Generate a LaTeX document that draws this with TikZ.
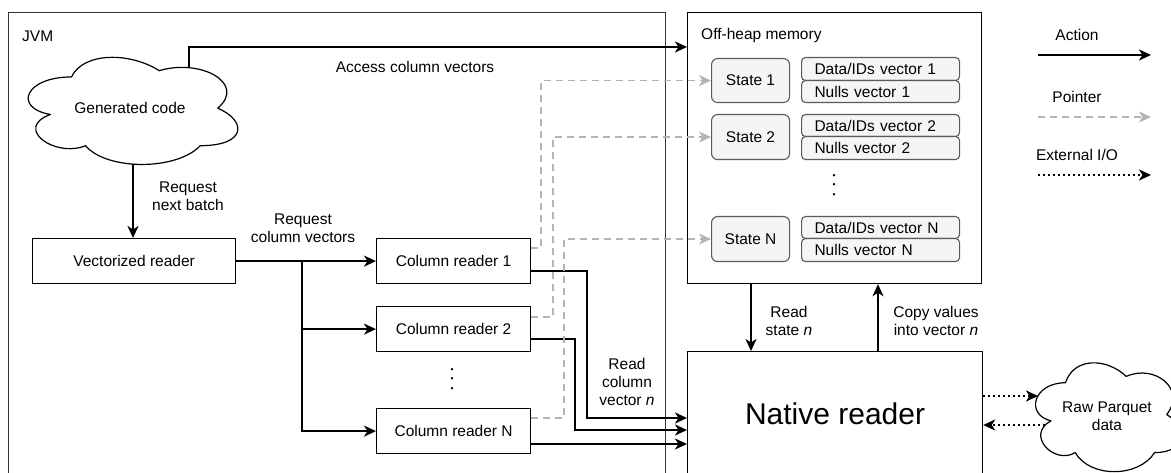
\documentclass[tikz,border=0pt]{standalone}
\usepackage{fontspec}
\setmainfont{Liberation Sans}
\setsansfont{Liberation Sans}
\usetikzlibrary{arrows.meta}

\definecolor{panelfill}{HTML}{F5F5F5}
\definecolor{ptrgray}{HTML}{B3B3B3}
\definecolor{framegray}{HTML}{333333}
\definecolor{softedge}{HTML}{5A5A5A}

% Cloud outline inside the box with top-left corner (#1,#2), width #3, height #4
\newcommand\cloudoutline[4]{%
  \draw[line width=1.2pt, line join=round, shift={(#1,#2)}, x=#3pt, y=-#4pt]
    (0.25,0.25) .. controls (0.05,0.25) and (0,0.5) .. (0.16,0.55)
    .. controls (0,0.66) and (0.18,0.9) .. (0.31,0.8)
    .. controls (0.4,1) and (0.7,1) .. (0.8,0.8)
    .. controls (1,0.8) and (1,0.6) .. (0.875,0.5)
    .. controls (1,0.3) and (0.8,0.1) .. (0.625,0.2)
    .. controls (0.5,0.05) and (0.3,0.05) .. (0.25,0.25) -- cycle;}

\tikzset{
  box/.style={draw=black, line width=1.2pt, anchor=north west, inner sep=0pt, align=center},
  frame/.style={draw=framegray, line width=1.2pt, anchor=north west, inner sep=0pt},
  statebox/.style={draw=softedge, fill=panelfill, line width=1.1pt, rounded corners=6pt,
                   anchor=north west, inner sep=0pt, minimum width=78pt},
  vecbox/.style={draw=softedge, fill=panelfill, line width=1.1pt, rounded corners=4pt,
                 anchor=north west, inner xsep=13pt, inner ysep=0pt, text width=132pt, align=left},
  lbl/.style={align=center, inner sep=0pt},
  vdotsnode/.style={align=center, inner sep=0pt, font=\fontsize{8.5}{9.6}\selectfont},
  headtip/.tip={Stealth[length=12pt, width=11pt, inset=3.5pt]},
  action/.style={draw=black, line width=2pt, -headtip},
  pointer/.style={draw=ptrgray, line width=1.8pt, dash pattern=on 7pt off 5pt, -headtip},
  extio/.style={draw=black, line width=2pt, dash pattern=on 2pt off 3pt, -headtip},
}

\begin{document}
\begin{tikzpicture}[x=1pt, y=-1pt, font=\fontsize{15.5}{18}\selectfont]
\useasboundingbox (0,0) rectangle (1171,473);
\clip (0,0) rectangle (1171,473);

% Containers
\node[frame, minimum width=657pt, minimum height=480pt] (jvm) at (8,12) {};
\node[anchor=west, inner sep=0pt] (jvmlabel) at (22,36) {JVM};
\node[box, minimum width=294pt, minimum height=271pt] (offheap) at (687,12) {};
\node[anchor=west, inner sep=0pt] (offheaplabel) at (701,35) {Off-heap memory};

% Native side
\node[box, minimum width=295pt, minimum height=125pt,
      font=\fontsize{30}{36}\selectfont] (native) at (687,351) {Native reader};

% Clouds
\cloudoutline{13}{45.7}{234}{125}
\node[lbl] (gen) at (130,108) {Generated code};
\coordinate (genTop) at (189,67);
\coordinate (genBot) at (133,164);

\cloudoutline{1025}{351}{162}{127}
\node[lbl] (raw) at (1107,416) {Raw Parquet\\data};
\coordinate (rawIn) at (1038,396);
\coordinate (rawOut) at (1045,425);

% JVM readers
\node[box, minimum width=203pt, minimum height=45pt] (vect) at (32,238) {Vectorized reader};
\node[box, minimum width=154pt, minimum height=45pt] (cr1) at (376,238) {Column reader 1};
\node[box, minimum width=154pt, minimum height=45pt] (cr2) at (376,306) {Column reader 2};
\node[box, minimum width=154pt, minimum height=45pt] (crN) at (376,408) {Column reader N};
\node[vdotsnode] (rdots) at (452,380) {\textbullet\\\textbullet\\\textbullet};

% Off-heap states and vectors
\node[statebox, minimum height=44pt] (s1) at (711,58) {State 1};
\node[statebox, minimum height=45pt] (s2) at (711,114) {State 2};
\node[statebox, minimum height=45pt] (sN) at (711,216) {State N};
\node[vecbox, minimum height=23pt] (d1) at (801,57) {Data/IDs vector 1};
\node[vecbox, minimum height=22pt] (n1) at (801,80) {Nulls vector 1};
\node[vecbox, minimum height=22pt] (d2) at (801,114) {Data/IDs vector 2};
\node[vecbox, minimum height=23pt] (n2) at (801,136) {Nulls vector 2};
\node[vecbox, minimum height=22pt] (dN) at (801,216) {Data/IDs vector N};
\node[vecbox, minimum height=23pt] (nN) at (801,238) {Nulls vector N};
\node[vdotsnode] (sdots) at (834,186) {\textbullet\\\textbullet\\\textbullet};

% Action connectors
\draw[action] (genTop) |- (offheap.west |- 0,47);
\node[lbl] (acclbl) at (415,67) {Access column vectors};
\draw[action] (genBot) -- (genBot |- vect.north);
\node[lbl] (nextlbl) at (188,196) {Request\\next batch};
\draw[action] (vect.east) -- (cr1.west);
\coordinate (split) at (302,260.5);
\draw[action] (split) |- (cr2.west);
\draw[action] (split) |- (crN.west);
\node[lbl] (colreqlbl) at (303,228) {Request\\column vectors};

\draw[action] (cr1.east |- 0,271) -- ++(56,0) |- (native.west |- 0,418);
\draw[action] (cr2.east |- 0,339) -- ++(44,0) |- (native.west |- 0,430);
\draw[action] (crN.east |- 0,444) -- (native.west |- 0,444);
\node[lbl] (readcollbl) at (627,382) {Read\\column\\vector \textit{n}};

\draw[action] (offheap.south -| 751,0) -- (native.north -| 751,0);
\node[lbl] (readstlbl) at (789,321) {Read\\state \textit{n}};
\draw[action] (native.north -| 878,0) -- (offheap.south -| 878,0);
\node[lbl] (copylbl) at (936,321) {Copy values\\into vector \textit{n}};

% Pointers from column readers to their states
\draw[pointer] (cr1.east |- 0,248) -- ++(10,0) |- (s1.west);
\draw[pointer] (cr2.east |- 0,317) -- ++(22,0) |- (s2.west);
\draw[pointer] (crN.east |- 0,418) -- ++(33,0) |- (sN.west);

% External I/O
\draw[extio] (native.east |- 0,396) -- (rawIn);
\draw[extio] (rawOut) -- (native.east |- 0,425);

% Legend
\node[lbl] (legact) at (1077,35) {Action};
\coordinate (la0) at (1038,55);
\coordinate (la1) at (1151,55);
\draw[action] (la0) -- (la1);
\node[lbl] (legptr) at (1077,97) {Pointer};
\coordinate (lp0) at (1038,117);
\coordinate (lp1) at (1151,117);
\draw[pointer] (lp0) -- (lp1);
\node[lbl] (legio) at (1077,155) {External I/O};
\coordinate (li0) at (1038,175);
\coordinate (li1) at (1151,175);
\draw[extio] (li0) -- (li1);
\end{tikzpicture}
\end{document}
